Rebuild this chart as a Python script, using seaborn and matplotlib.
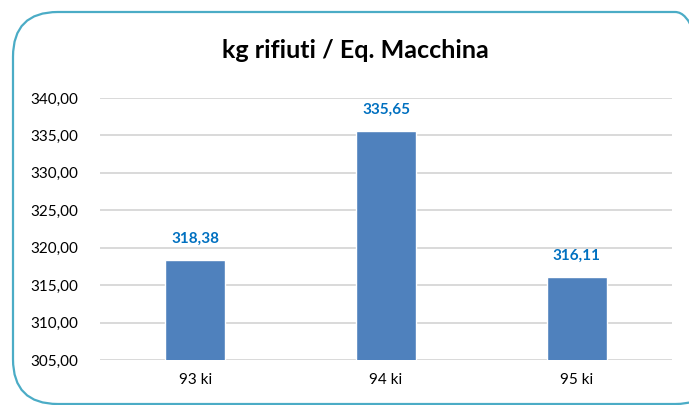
import matplotlib
matplotlib.use("Agg")
import matplotlib.pyplot as plt
import seaborn as sns
import pandas as pd
from matplotlib.patches import FancyBboxPatch
from matplotlib.ticker import FuncFormatter, MultipleLocator

categories = ["93 ki", "94 ki", "95 ki"]
values = [318.38, 335.65, 316.11]
title = "kg rifiuti / Eq. Macchina"

sns.set_theme(style="white")
plt.rcParams['font.family'] = ['Lato', 'DejaVu Sans']

W, H = 689, 405
fig = plt.figure(figsize=(W/100, H/100), dpi=100)
fig.patch.set_facecolor("white")

# rounded border
box = FancyBboxPatch((13/W, 1 - 404/H), (720-13)/W, (404-12)/H,
                     boxstyle="round,pad=0,rounding_size=0.065",
                     transform=fig.transFigure, facecolor="none",
                     edgecolor="#4BACC6", linewidth=1.6, clip_on=False,
                     mutation_aspect=W/H)
fig.patches.append(box)

ax = fig.add_axes([100/W, 1 - 360/H, (672-100)/W, (360-98)/H])
df = pd.DataFrame({"cat": categories, "val": values})
sns.barplot(data=df, x="cat", y="val", ax=ax, color="#4F81BD", width=0.315,
            saturation=1, zorder=3)
ax.set_ylim(305, 340)
ax.yaxis.set_major_locator(MultipleLocator(5))
ax.yaxis.set_major_formatter(FuncFormatter(lambda v, p: f"{v:.2f}".replace(".", ",")))
ax.grid(axis="y", color="#D9D9D9", linewidth=1.4, zorder=0)
ax.set_axisbelow(True)
for s in ax.spines.values():
    s.set_visible(False)
ax.set_xlabel("")
ax.set_ylabel("")
ax.tick_params(axis="both", length=0, labelsize=11, colors="#000000")
ax.tick_params(axis="y", pad=16)
ax.tick_params(axis="x", pad=9)

for i, v in enumerate(values):
    ax.annotate(f"{v:.2f}".replace(".", ","), (i, v), xytext=(0, 10),
                textcoords="offset points", ha="center", va="bottom",
                color="#0070C0", fontweight="bold", fontsize=11)

fig.text(355/W, 1 - 50/H, title, ha="center", va="center",
         fontsize=18, fontweight="bold", color="#000000")

fig.savefig("out.png", dpi=100)
